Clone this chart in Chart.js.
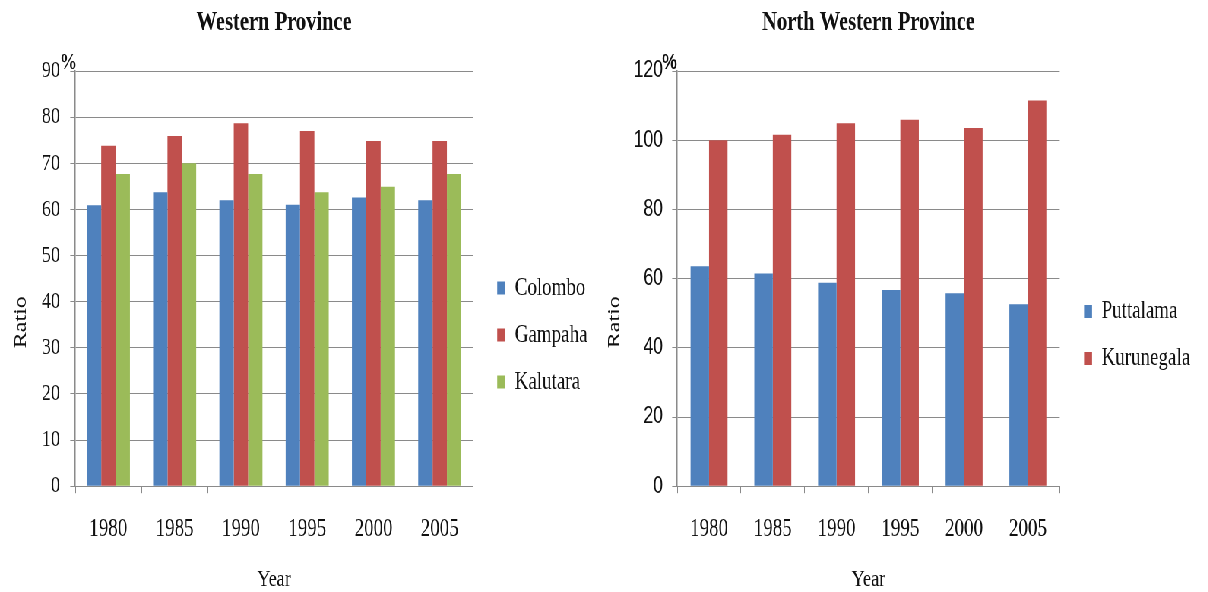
<!DOCTYPE html>
<html>
<head>
<meta charset="utf-8">
<script src="https://cdn.jsdelivr.net/npm/chart.js@4.4.1/dist/chart.umd.min.js"></script>
<style>
  html, body { margin: 0; padding: 0; background: #fff; overflow: hidden; width: 1208px; height: 592px; }
  /* the two panels are laid out wide and squeezed horizontally as a whole */
  #stage { position: absolute; left: 0; top: 0; width: 1590px; height: 592px; transform: scaleX(0.76); transform-origin: 0 0; }
  #west { position: absolute; left: 0; top: 0; }
  #northwest { position: absolute; left: 790px; top: 0; }
</style>
</head>
<body>
<div id="stage">
  <canvas id="west" width="773" height="592"></canvas>
  <canvas id="northwest" width="776" height="592"></canvas>
</div>
<script>
// Census years on the category axis
const years = ['1980', '1985', '1990', '1995', '2000', '2005'];

// Western Province districts (%)
const colombo  = [60.9, 63.7, 62.0, 61.0, 62.6, 62.0];
const gampaha  = [73.8, 75.9, 78.7, 77.0, 74.8, 74.8];
const kalutara = [67.7, 70.0, 67.7, 63.7, 64.9, 67.7];

// North Western Province districts (%)
const puttalama  = [63.6, 61.5, 58.8, 56.7, 55.8, 52.6];
const kurunegala = [100.0, 101.6, 104.9, 105.9, 103.5, 111.5];

// value-axis ranges
const westMax = 90, westStep = 10;
const northWestMax = 120, northWestStep = 20;

const SERIF = '"Liberation Serif", "Times New Roman", serif';
const SANS = '"Liberation Sans", Arial, sans-serif';
const INK = '#111';
const GRID = '#8a8a8a';
const BLUE = '#4F81BD', RED = '#C0504D', GREEN = '#9BBB59';

// "%" marker beside the top value label, and the rotated "Ratio" caption
const axisDecor = {
  id: 'axisDecor',
  afterLayout(chart, args, opts) {
    // nudge the legend a little further from the plot
    chart.legend.left += opts.legendShift;
    chart.legend.right += opts.legendShift;
  },
  afterDraw(chart, args, opts) {
    const y = chart.scales.y;
    const ctx = chart.ctx;
    ctx.save();
    ctx.fillStyle = INK;
    ctx.textAlign = 'center';
    ctx.textBaseline = 'middle';
    ctx.font = opts.pctFont;
    ctx.fillText('%', y.right - opts.pctDx, y.top - 8);
    ctx.translate(opts.captionX, chart.chartArea.bottom - opts.captionRise);
    ctx.rotate(-Math.PI / 2);
    ctx.font = '24px ' + SERIF;
    ctx.fillText('Ratio', 0, 0);
    ctx.restore();
  }
};

function buildChart(id, cfg) {
  return new Chart(document.getElementById(id), {
    type: 'bar',
    data: { labels: years, datasets: cfg.datasets },
    plugins: [axisDecor],
    options: {
      responsive: false,
      animation: false,
      layout: { padding: 0 },
      datasets: { bar: { categoryPercentage: cfg.groupWidth, barPercentage: 1.0, borderWidth: 0 } },
      plugins: {
        title: {
          display: true, text: cfg.title, fullSize: false, color: INK,
          font: { family: SERIF, size: 27, weight: 'bold' },
          padding: { top: 7, bottom: 31.6 }
        },
        legend: {
          position: 'right',
          title: { display: true, text: '', font: { size: 10, lineHeight: 1 }, padding: { top: 68, bottom: 0 } },
          labels: {
            boxWidth: 10.5, boxHeight: 13, padding: 22, color: INK,
            font: { family: SERIF, size: 25 }
          }
        },
        tooltip: { enabled: false },
        axisDecor: {
          pctDx: cfg.pctDx, pctFont: cfg.pctFont,
          captionX: cfg.captionX, captionRise: 164, legendShift: 10
        }
      },
      scales: {
        x: {
          grid: { offset: true, drawOnChartArea: false, drawTicks: true, tickLength: 7, color: GRID, lineWidth: 1 },
          border: { color: GRID, width: 1 },
          ticks: { color: INK, font: { family: SERIF, size: 25 }, padding: 21, maxRotation: 0, autoSkip: false },
          title: { display: true, text: 'Year', color: INK, font: { family: SERIF, size: 24 }, padding: { top: 0, bottom: -2 } }
        },
        y: {
          min: 0, max: cfg.yMax,
          afterFit(scale) { scale.width = cfg.axisWidth; },
          ticks: { stepSize: cfg.yStep, color: INK, font: cfg.tickFont, padding: cfg.tickPad },
          grid: { color: GRID, lineWidth: 1, tickLength: 6.6 },
          border: { color: GRID, width: 1.5 }
        }
      }
    }
  });
}

buildChart('west', {
  title: 'Western Province',
  datasets: [
    { label: 'Colombo', data: colombo, backgroundColor: BLUE },
    { label: 'Gampaha', data: gampaha, backgroundColor: RED },
    { label: 'Kalutara', data: kalutara, backgroundColor: GREEN }
  ],
  groupWidth: 0.65,
  yMax: westMax, yStep: westStep,
  axisWidth: 99, tickPad: 13.4,
  tickFont: { family: SERIF, size: 24 },
  captionX: 28,
  pctDx: 9, pctFont: 'bold 23px ' + SERIF
});

buildChart('northwest', {
  title: 'North Western Province',
  datasets: [
    { label: 'Puttalama', data: puttalama, backgroundColor: BLUE },
    { label: 'Kurunegala', data: kurunegala, backgroundColor: RED }
  ],
  groupWidth: 0.58,
  yMax: northWestMax, yStep: northWestStep,
  axisWidth: 101, tickPad: 12,
  tickFont: { family: SANS, size: 23 },
  captionX: 19,
  pctDx: 10, pctFont: 'bold 22px ' + SANS
});
</script>
</body>
</html>
